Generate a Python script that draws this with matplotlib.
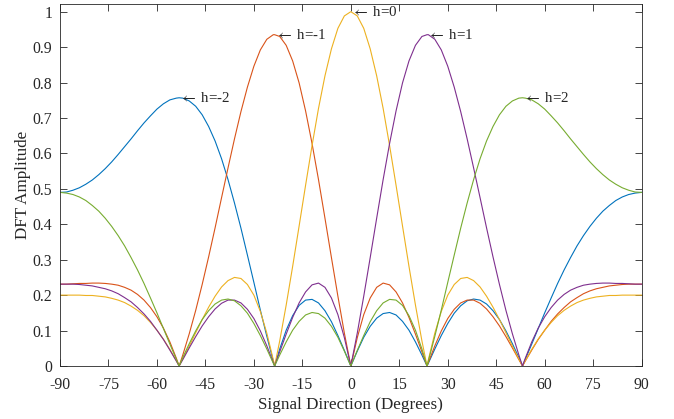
import numpy as np
import matplotlib
matplotlib.use("Agg")
import matplotlib.pyplot as plt

plt.rcParams['font.family'] = ['Liberation Serif', 'DejaVu Serif']
plt.rcParams['mathtext.fontset'] = 'stix'
plt.rcParams['axes.unicode_minus'] = False

# Signal direction samples (degrees)
theta = sorted(list(range(-90, 91, 2)) + [-53.13, -23.58, 23.58, 53.13])

# DFT amplitude per beam, in thousandths
amp_hm2 = [490,491,496,503,513,525,540,557,576,597,619,641,664,686,706,725,740,751,756,757,756,748,733,709,676,635,585,526,460,389,313,236,158,84,14,0,48,101,142,171,186,188,178,156,125,86,44,0,42,81,112,135,148,151,144,126,101,68,31,0,8,48,86,120,149,170,184,189,186,175,156,131,99,63,24,0,19,62,106,150,192,233,271,306,339,368,394,417,437,453,467,477,484,488,490]
amp_hm1 = [231,231,232,233,233,234,234,233,231,228,222,214,202,186,165,139,107,68,22,0,31,91,157,230,308,390,475,559,641,718,787,846,892,922,935,935,930,905,861,799,720,628,526,417,306,197,93,0,80,145,192,222,234,229,209,178,137,90,40,0,10,57,99,134,160,178,186,186,177,161,139,113,83,51,18,0,14,45,75,101,126,147,165,181,193,204,212,218,222,226,228,230,231,231,231]
amp_h0 = [200,200,200,200,199,199,197,195,191,186,179,169,157,142,123,101,76,47,15,0,20,56,94,131,166,197,223,241,250,247,230,200,154,93,18,0,71,172,281,395,510,622,727,819,895,953,988,1000,988,953,895,819,727,622,510,395,281,172,71,0,18,93,154,200,230,247,250,241,223,197,166,131,94,56,20,0,15,47,76,101,123,142,157,169,179,186,191,195,197,199,199,200,200,200,200]
amp_h1 = [231,231,231,230,228,226,222,218,212,204,193,181,165,147,126,101,75,45,14,0,18,51,83,113,139,161,177,186,186,178,160,134,99,57,10,0,40,90,137,178,209,229,234,222,192,145,80,0,93,197,306,417,526,628,720,799,861,905,930,935,935,922,892,846,787,718,641,559,475,390,308,230,157,91,31,0,22,68,107,139,165,186,202,214,222,228,231,233,234,234,233,233,232,231,231]
amp_h2 = [490,488,484,477,467,453,437,417,394,368,339,306,271,233,192,150,106,62,19,0,24,63,99,131,156,175,186,189,184,170,149,120,86,48,8,0,31,68,101,126,144,151,148,135,112,81,42,0,44,86,125,156,178,188,186,171,142,101,48,0,14,84,158,236,313,389,460,526,585,635,676,709,733,748,756,757,756,751,740,725,706,686,664,641,619,597,576,557,540,525,513,503,496,491,490]

series = [amp_hm2, amp_hm1, amp_h0, amp_h1, amp_h2]
colors = ['#0072BD', '#D95319', '#EDB120', '#7E2F8E', '#77AC30']

# Peak annotations
peak_x = [-53.13, -23.58, 0, 23.58, 53.13]
peak_y = [0.757, 0.935, 1.0, 0.935, 0.757]
peak_labels = ['h=-2', 'h=-1', 'h=0', 'h=1', 'h=2']

xticks = list(range(-90, 91, 15))
yticks = [0, 0.1, 0.2, 0.3, 0.4, 0.5, 0.6, 0.7, 0.8, 0.9, 1]
ytick_labels = ['0', '0.1', '0.2', '0.3', '0.4', '0.5', '0.6', '0.7', '0.8', '0.9', '1']

fig = plt.figure(figsize=(6.74, 4.19), dpi=100)
ax = fig.add_axes([0.089, 0.1265, 0.863, 0.864])
for vals, c in zip(series, colors):
    ax.plot(theta, np.array(vals) / 1000.0, color=c, lw=0.8)
ax.set_xlim(-90, 90)
ax.set_ylim(0, 1.0217)
ax.set_xticks(xticks)
ax.set_yticks(yticks)
ax.set_yticklabels(ytick_labels)
ax.tick_params(direction='in', top=True, right=True, length=5, width=0.6,
               color='#262626', labelcolor='#262626', labelsize=11.3)
ax.tick_params(axis='x', pad=7.7)
ax.tick_params(axis='y', pad=5.5)
for s in ax.spines.values():
    s.set_color('#262626')
    s.set_linewidth(0.6)
ax.set_xlabel('Signal Direction (Degrees)', fontsize=12.3, color='#262626', labelpad=3.2)
ax.set_ylabel('DFT Amplitude', fontsize=12.3, color='#262626', labelpad=1.5)
for px, py, lab in zip(peak_x, peak_y, peak_labels):
    ax.text(px, py, r'$\leftarrow$ ' + lab, fontsize=10.8, ha='left', va='center', color='#262626')
fig.savefig("out.png")
